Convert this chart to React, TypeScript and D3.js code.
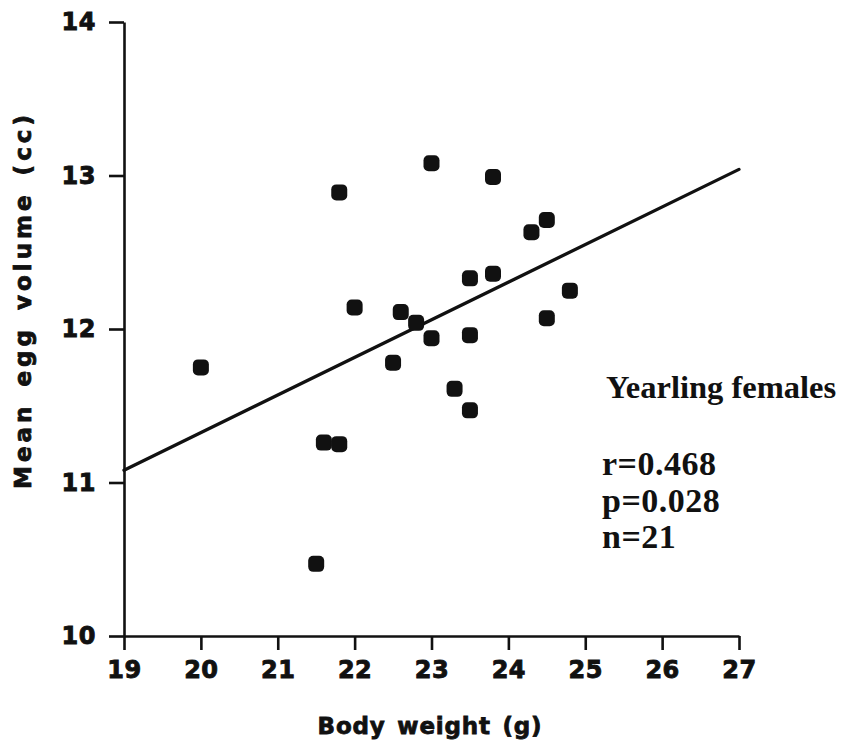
import React, { useEffect, useRef } from 'react';
import * as d3 from 'd3';

// body weight (g) and mean egg volume (cc), one entry per female
const bodyWeight = [20.0, 21.5, 21.6, 21.8, 21.8, 22.0, 22.5, 22.6, 22.8, 23.0, 23.0, 23.3, 23.5, 23.5, 23.5, 23.8, 23.8, 24.3, 24.5, 24.5, 24.8];
const eggVolume = [11.75, 10.47, 11.26, 11.25, 12.89, 12.14, 11.78, 12.11, 12.04, 11.94, 13.08, 11.61, 11.47, 11.96, 12.33, 12.36, 12.99, 12.63, 12.71, 12.07, 12.25];

// fitted regression line, read at the ends of the x range
const fitX = [19, 27];
const fitY = [11.08, 13.04];

const xTicks = [19, 20, 21, 22, 23, 24, 25, 26, 27];
const yTicks = [10, 11, 12, 13, 14];

const statLines = ['r=0.468', 'p=0.028', 'n=21'];

const App: React.FC = () => {
  const ref = useRef<SVGSVGElement | null>(null);

  useEffect(() => {
    const svg = d3.select(ref.current);
    const width = 841;
    const height = 741;
    const sansBold = "'DejaVu Sans', sans-serif";
    const serif = "'Liberation Serif', 'Times New Roman', serif";

    svg.selectAll('*').remove();
    svg.attr('width', width).attr('height', height);

    const x = d3.scaleLinear().domain([19, 27]).range([124, 739]);
    const y = d3.scaleLinear().domain([10, 14]).range([636, 22]);

    // axes
    const gx = svg
      .append('g')
      .attr('transform', `translate(0,${y(10)})`)
      .call(d3.axisBottom(x).tickValues(xTicks).tickFormat(d3.format('d')).tickSizeInner(14).tickSizeOuter(0).tickPadding(11));

    const gy = svg
      .append('g')
      .attr('transform', `translate(${x(19)},0)`)
      .call(d3.axisLeft(y).tickValues(yTicks).tickFormat(d3.format('d')).tickSizeInner(15).tickSizeOuter(0).tickPadding(13));

    [gx, gy].forEach(g => {
      g.select('.domain').attr('stroke', '#111').attr('stroke-width', 2.6);
      g.selectAll('.tick line').attr('stroke', '#111').attr('stroke-width', 2.6);
      g.selectAll('.tick text')
        .attr('fill', '#111')
        .attr('stroke', '#111')
        .attr('stroke-width', 0.9)
        .attr('font-family', sansBold)
        .attr('font-weight', 'bold')
        .attr('font-size', 24)
        .attr('letter-spacing', 0.5);
    });

    // regression line
    svg
      .append('line')
      .attr('x1', x(fitX[0]))
      .attr('y1', y(fitY[0]))
      .attr('x2', x(fitX[1]))
      .attr('y2', y(fitY[1]))
      .attr('stroke', '#111')
      .attr('stroke-width', 3.3)
      .attr('stroke-linecap', 'round');

    // points
    const size = 16;
    svg
      .append('g')
      .attr('fill', '#111')
      .selectAll('rect')
      .data(bodyWeight.map((w, i) => ({ w, v: eggVolume[i] })))
      .join('rect')
      .attr('x', d => x(d.w) - size / 2)
      .attr('y', d => y(d.v) - size / 2)
      .attr('width', size)
      .attr('height', size)
      .attr('rx', 5);

    // axis titles
    svg.append('text')
      .attr('x', 430)
      .attr('y', 734)
      .attr('text-anchor', 'middle')
      .attr('font-family', sansBold)
      .attr('font-weight', 'bold')
      .attr('font-size', 23)
      .attr('letter-spacing', 0.8)
      .attr('word-spacing', 3)
      .attr('fill', '#111')
      .attr('stroke', '#111')
      .attr('stroke-width', 0.8)
      .text('Body weight (g)');

    svg.append('text')
      .attr('transform', 'translate(31,300) rotate(-90)')
      .attr('text-anchor', 'middle')
      .attr('font-family', sansBold)
      .attr('font-weight', 'bold')
      .attr('font-size', 23)
      .attr('letter-spacing', 4)
      .attr('word-spacing', 4)
      .attr('fill', '#111')
      .attr('stroke', '#111')
      .attr('stroke-width', 0.8)
      .text('Mean egg volume (cc)');

    // annotation
    svg.append('text')
      .attr('x', 606)
      .attr('y', 398)
      .attr('font-family', serif)
      .attr('font-weight', 'bold')
      .attr('font-size', 32.5)
      .attr('fill', '#111')
      .text('Yearling females');

    svg.append('g')
      .selectAll('text')
      .data(statLines)
      .join('text')
      .attr('x', 602)
      .attr('y', (d, i) => 475 + i * 36.5)
      .attr('font-family', serif)
      .attr('font-weight', 'bold')
      .attr('font-size', 34)
      .attr('letter-spacing', 0.5)
      .attr('fill', '#111')
      .text(d => d);
  }, []);

  return (
    <div style={{ position: 'absolute', left: 0, top: 0, background: '#fff' }}>
      <svg ref={ref}></svg>
    </div>
  );
};

export default App;
